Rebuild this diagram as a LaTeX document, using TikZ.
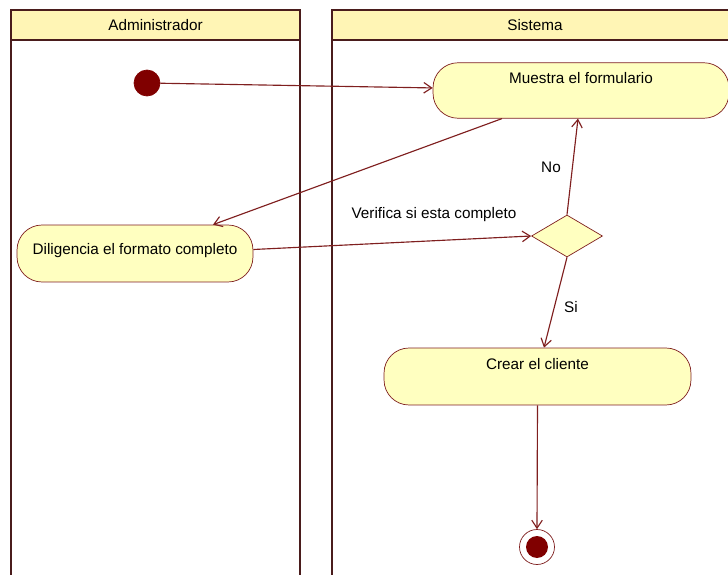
\documentclass[tikz,border=0pt]{standalone}
\usepackage{fontspec}
\setmainfont{Liberation Sans}
\usepackage{xcolor}
\usetikzlibrary{arrows.meta,shapes.geometric}

\definecolor{lanecol}{HTML}{4A1C1C}
\definecolor{linecol}{HTML}{7F1F1F}
\definecolor{boxfill}{HTML}{FFFFC0}
\definecolor{headfill}{HTML}{FFF5B5}
\definecolor{dotcol}{HTML}{800000}

\begin{document}
\begin{tikzpicture}[x=0.02cm,y=-0.02cm,
font=\fontsize{8.7}{10}\selectfont,
>={Straight Barb[length=4.5pt,width=6pt]},
lane/.style={draw=lanecol,line width=1.6pt},
activity/.style={rectangle,rounded corners=0.5cm,draw=linecol,fill=boxfill,inner xsep=0pt,inner ysep=0.08cm,text height=0.33cm,text depth=0.62cm},
choice/.style={diamond,draw=linecol,fill=boxfill,inner sep=0pt,minimum width=1.42cm,minimum height=0.84cm},
flow/.style={->,draw=linecol,line width=0.65pt}
]
\useasboundingbox (0,0) rectangle (728,575);
\clip (0,0) rectangle (728,575);

% The lanes
\draw[lane,fill=headfill] (11,10) rectangle (300,40);
\draw[lane] (11,40) -- (11,590) (300,40) -- (300,590);
\draw[lane,fill=headfill] (332,10) rectangle (738,40);
\draw[lane] (332,40) -- (332,590);
\node (adminhead) at (155.5,25) {Administrador};
\node (sistemahead) at (535,25) {Sistema};

% The states
\node[circle,fill=dotcol,draw=dotcol,minimum size=0.52cm,inner sep=0pt] (inicio) at (147,83) {};
\node[activity,minimum width=5.92cm] (muestra) at (581,90.5) {Muestra el formulario};
\node[activity,minimum width=4.72cm,text height=0.5cm,text depth=0.48cm] (dilig) at (135,253.5) {Diligencia el formato completo};
\node[choice] (decision) at (567,236) {};
\node[activity,minimum width=6.14cm,text height=0.34cm,text depth=0.64cm] (crear) at (537.5,376.5) {Crear el cliente};
\node[circle,draw=linecol,fill=white,minimum size=0.7cm,inner sep=0pt,
  path picture={\fill[dotcol] (path picture bounding box.center) circle (0.22cm);}] (fin) at (537,547) {};

% The transitions
\draw[flow] (inicio) -- (muestra);
\draw[flow] ([xshift=-1.58cm]muestra.south) -- ([xshift=1.56cm]dilig.north);
\draw[flow] ([yshift=0.08cm]dilig.east) -- (decision.west);
\draw[flow] (decision.north) -- ([xshift=-0.06cm]muestra.south);
\draw[flow] (decision.south) -- ([xshift=0.13cm]crear.north);
\draw[flow] (crear.south) -- (fin.north);

% The labels
\node (verifica) at (434,215) {Verifica si esta completo};
\node (no) at (551,167) {No};
\node (si) at (571,307) {Si};
\end{tikzpicture}
\end{document}
